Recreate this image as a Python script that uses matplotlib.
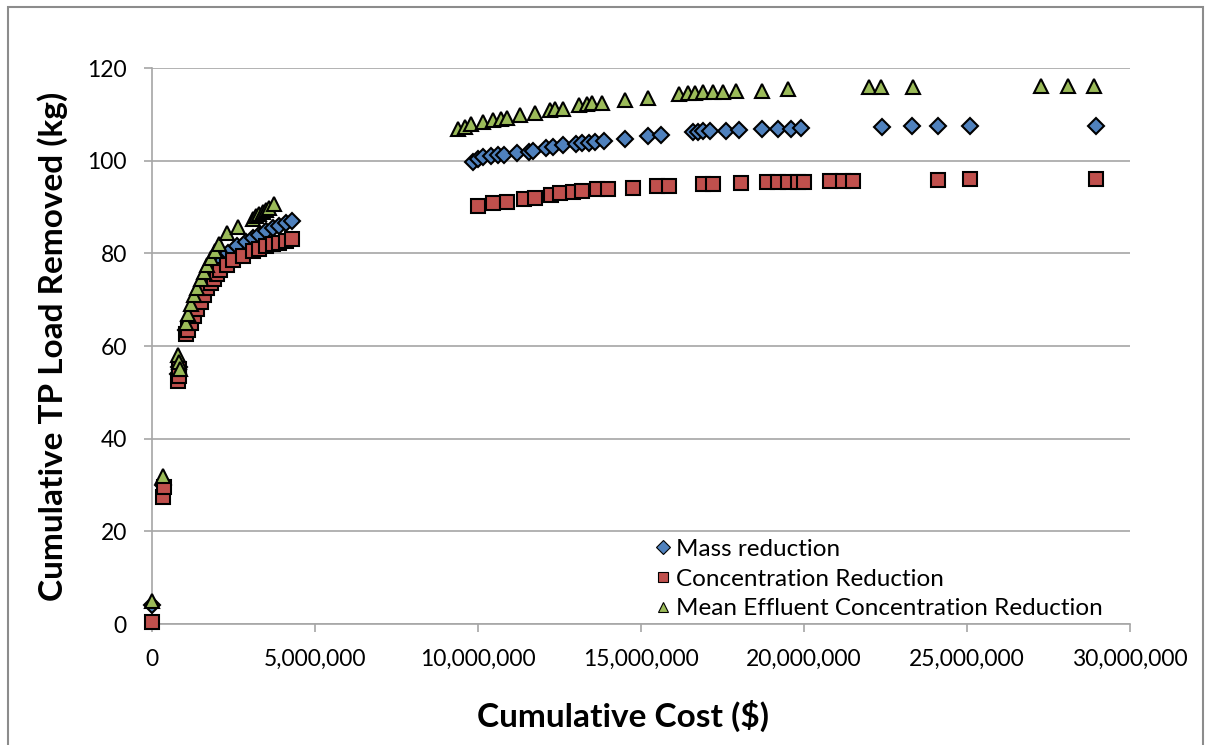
import matplotlib.pyplot as plt
import matplotlib.patches as mpatches
from matplotlib.ticker import FuncFormatter, MultipleLocator

plt.rcParams['font.family'] = ['Lato', 'DejaVu Sans']

# Cumulative cost in millions of dollars, cumulative TP load removed in kg
mass_cost = [0, 0.35, 0.8, 0.83, 1.05, 1.15, 1.25, 1.35, 1.45, 1.55, 1.65, 1.75,
             1.9, 2.1, 2.35, 2.6, 2.9, 3.1, 3.3, 3.5, 3.7, 3.9, 4.1, 4.3,
             9.85, 10.0, 10.15, 10.4, 10.6, 10.8, 11.2, 11.55, 11.7, 12.1, 12.3,
             12.6, 13.0, 13.2, 13.4, 13.6, 13.85, 14.5, 15.2, 15.6, 16.6, 16.75,
             16.9, 17.1, 17.6, 18.0, 18.7, 19.2, 19.6, 19.9, 22.4, 23.3, 24.1,
             25.1, 28.95]
mass_load = [4, 30, 54, 55.5, 63.5, 65.5, 67.5, 69.5, 71, 72.5, 74, 75.5,
             76.5, 78, 80, 81.5, 82.5, 83.3, 84, 84.8, 85.5, 86, 86.5, 87,
             99.7, 100.4, 100.8, 101, 101.2, 101.3, 101.6, 101.9, 102.1, 102.7, 103,
             103.4, 103.5, 103.8, 103.9, 104, 104.3, 104.7, 105.4, 105.5, 106.1, 106.2,
             106.3, 106.4, 106.5, 106.6, 106.8, 106.8, 106.9, 107, 107.2, 107.4, 107.4,
             107.4, 107.5]

conc_cost = [0, 0.35, 0.38, 0.8, 0.82, 0.84, 1.05, 1.1, 1.2, 1.3, 1.4, 1.5, 1.6,
             1.7, 1.8, 1.9, 2.0, 2.1, 2.3, 2.5, 2.8, 3.1, 3.3, 3.5, 3.7, 3.9, 4.1,
             4.3, 10.0, 10.45, 10.9, 11.4, 11.75, 12.25, 12.5, 12.9, 13.2, 13.65,
             14.0, 14.75, 15.5, 15.85, 16.9, 17.2, 18.05, 18.85, 19.2, 19.5, 19.8,
             20.0, 20.8, 21.2, 21.5, 24.1, 25.1, 28.95]
conc_load = [0.5, 27.5, 29.5, 52.5, 53.5, 55, 62.5, 63.5, 65, 66.5, 68, 69.5, 71,
             72.5, 73.5, 74.5, 75.5, 76.5, 77.5, 78.5, 79.5, 80.5, 81, 81.5, 82, 82.3,
             82.7, 83, 90.2, 90.8, 91.1, 91.8, 92, 92.7, 93, 93.2, 93.5, 93.8,
             93.9, 94.2, 94.5, 94.5, 94.9, 95, 95.2, 95.4, 95.4, 95.4, 95.5,
             95.5, 95.6, 95.6, 95.7, 95.9, 96, 96]

mec_cost = [0, 0.35, 0.8, 0.82, 0.85, 1.05, 1.1, 1.2, 1.3, 1.4, 1.5, 1.6, 1.7,
            1.8, 1.95, 2.05, 2.3, 2.65, 3.1, 3.2, 3.3, 3.4, 3.5, 3.6, 3.75,
            9.4, 9.6, 9.8, 10.15, 10.45, 10.7, 10.9, 11.3, 11.75, 12.2, 12.35,
            12.6, 13.1, 13.35, 13.5, 13.8, 14.5, 15.2, 16.15, 16.45, 16.65, 16.9,
            17.2, 17.5, 17.9, 18.7, 19.5, 22.0, 22.35, 23.35, 27.25, 28.1, 28.9]
mec_load = [5, 32, 58, 56.5, 55, 65, 67, 69, 71, 72.5, 74.5, 76, 77.5,
            79, 80.5, 82, 84.3, 85.7, 87.5, 88, 88.5, 89, 89.3, 89.7, 90.6,
            106.8, 107.3, 107.9, 108.4, 108.8, 109, 109.3, 109.9, 110.3, 111, 111.1,
            111.2, 112, 112.2, 112.4, 112.5, 113.1, 113.5, 114.5, 114.6, 114.7, 114.8,
            114.8, 114.9, 115, 115.1, 115.5, 115.9, 115.9, 115.9, 116.1, 116.1, 116.1]

series_labels = ["Mass reduction", "Concentration Reduction",
                 "Mean Effluent Concentration Reduction"]

fig = plt.figure(figsize=(12.05, 7.45), dpi=100)
ax = fig.add_axes([0.126, 0.1624, 0.812, 0.7463])

# light gray frame around the whole chart, like the Excel chart area
fig.patches.append(mpatches.Rectangle((0.0066, -0.01), 0.992, 1.0006,
                                      transform=fig.transFigure, fill=False,
                                      ec="#8c8c8c", lw=1.5))

m = 1e6
ax.plot([c * m for c in mass_cost], mass_load, ls="none", marker="D",
        ms=8, mfc="#4F81BD", mec="black", mew=1.5, label=series_labels[0],
        zorder=3, clip_on=False)
ax.plot([c * m for c in conc_cost], conc_load, ls="none", marker="s",
        ms=10.5, mfc="#C0504D", mec="black", mew=1.5, label=series_labels[1],
        zorder=4, clip_on=False)
ax.plot([c * m for c in mec_cost], mec_load, ls="none", marker="^",
        ms=10.5, mfc="#9BBB59", mec="black", mew=1.5, label=series_labels[2],
        zorder=5, clip_on=False)

ax.set_xlim(0, 30e6)
ax.set_ylim(0, 120)
ax.xaxis.set_major_locator(MultipleLocator(5e6))
ax.yaxis.set_major_locator(MultipleLocator(20))
ax.xaxis.set_major_formatter(FuncFormatter(lambda v, p: f"{v:,.0f}"))

ax.grid(axis="y", color="#a6a6a6", lw=1.2)
ax.set_axisbelow(True)
for s in ["top", "right"]:
    ax.spines[s].set_visible(False)
for s in ["left", "bottom"]:
    ax.spines[s].set_color("#a6a6a6")
    ax.spines[s].set_linewidth(1.2)
ax.tick_params(axis="both", colors="#a6a6a6", labelcolor="black",
               labelsize=16.5, length=6, width=1.2, direction="out")
ax.tick_params(axis="x", pad=12)
ax.tick_params(axis="y", pad=12)

ax.set_xlabel("Cumulative Cost ($)", fontsize=24, fontweight="bold")
ax.xaxis.set_label_coords(0.4816, -0.137)
ax.set_ylabel("Cumulative TP Load Removed (kg)", fontsize=24, fontweight="bold",
              labelpad=14)

leg = ax.legend(loc="lower left", bbox_to_anchor=(0.5, -0.009), frameon=False,
                fontsize=17.5, handletextpad=0.05, labelspacing=0.36,
                handlelength=1.0, borderaxespad=0)
for h in leg.legend_handles:
    h.set_markersize(7)
    h.set_markeredgewidth(0.8)

fig.savefig("out.png", dpi=100)
